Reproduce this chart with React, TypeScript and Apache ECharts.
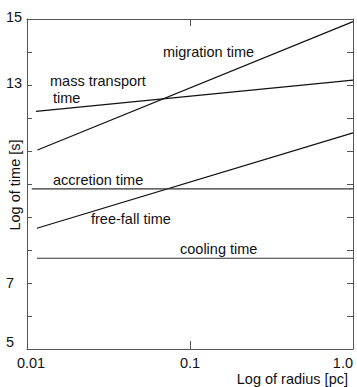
import React, { useEffect, useRef } from "react";
import * as echarts from "echarts";

const radiusStart = [0.0116, 0.01135, 0.0115, 0.0107, 0.0115];
const radiusEnd = [1.0, 1.0, 1.0, 1.0, 1.0];
const seriesNames = ["migration time", "mass transport time", "free-fall time", "accretion time", "cooling time"];
const startValues = [11.03, 12.2, 8.66, 9.85, 7.75];
const endValues = [14.92, 13.15, 11.55, 9.85, 7.75];
const yTickLabels = [15, 13, 7, 5];

const FONT = "'Liberation Sans', Arial, Helvetica, sans-serif";
const FS = 14.5;

export default function App() {
  const ref = useRef<HTMLDivElement>(null);
  useEffect(() => {
    if (!ref.current) return;
    const chart = echarts.init(ref.current, null, { renderer: "svg" });
    const xFmt = (v: number) => {
      const e = Math.round(Math.log10(v));
      if (e >= 0) return "1.0";
      if (e === -1) return "0.1";
      return "{first|0.01}";
    };
    const yFmt = (v: number) => {
      if (!yTickLabels.includes(v)) return "";
      if (v === 5) return "{low|5}";
      if (v >= 13) return "{up|" + v + "}";
      return String(v);
    };
    const txt = { color: "#111", fontSize: FS, fontFamily: FONT };
    const axisLine = { show: true, lineStyle: { color: "#555", width: 1 } };
    const series = seriesNames.map((name, i) => ({
      name,
      type: "line",
      data: [
        [radiusStart[i], startValues[i]],
        [radiusEnd[i], endValues[i]],
      ],
      showSymbol: false,
      symbol: "none",
      lineStyle: { color: i >= 3 ? "#333" : "#111", width: 1.2 },
      silent: true,
    }));
    const label = (text: string, x: number, y: number) => ({
      type: "text",
      x,
      y,
      style: { text, fill: "#111", font: `${FS}px ${FONT}`, textAlign: "left", textVerticalAlign: "middle" },
    });
    chart.setOption({
      animation: false,
      backgroundColor: "#fff",
      grid: { left: 27, top: 19, right: 4, bottom: 38 },
      xAxis: [
        {
          type: "log",
          logBase: 10,
          min: 0.01,
          max: 1,
          position: "bottom",
          axisLine,
          axisTick: { show: true, inside: true, length: 8, lineStyle: { color: "#555" } },
          minorTick: { show: false },
          splitLine: { show: false },
          axisLabel: {
            show: true,
            formatter: xFmt,
            ...txt,
            margin: 6,
            alignMaxLabel: "right",
            rich: { first: { ...txt, padding: [0, 0, 0, 8] } },
          },
        },
        {
          type: "log",
          logBase: 10,
          min: 0.01,
          max: 1,
          position: "top",
          axisLine,
          axisTick: { show: true, inside: true, length: 7, lineStyle: { color: "#555" } },
          splitLine: { show: false },
          axisLabel: { show: false },
        },
      ],
      yAxis: [
        {
          type: "value",
          min: 5,
          max: 15,
          interval: 1,
          position: "left",
          axisLine,
          axisTick: { show: true, inside: true, length: 5, lineStyle: { color: "#555" } },
          splitLine: { show: false },
          axisLabel: {
            show: true,
            align: "left",
            margin: 21,
            ...txt,
            formatter: yFmt,
            rich: {
              low: { ...txt, padding: [0, 0, 14, 0] },
              up: { ...txt, padding: [0, 0, 4, 0] },
            },
          },
        },
        {
          type: "value",
          min: 5,
          max: 15,
          interval: 1,
          position: "right",
          axisLine,
          axisTick: { show: true, inside: true, length: 6, lineStyle: { color: "#555" } },
          splitLine: { show: false },
          axisLabel: { show: false },
        },
      ],
      series,
      graphic: [
        label("migration time", 163, 52),
        label("mass transport", 50, 81),
        label("time", 53, 97.5),
        label("accretion time", 53, 179.5),
        label("free-fall time", 91, 218.5),
        label("cooling time", 180, 248.5),
        {
          type: "text",
          x: 348,
          y: 379,
          style: { text: "Log of radius [pc]", fill: "#111", font: `${FS}px ${FONT}`, textAlign: "right", textVerticalAlign: "middle" },
        },
        {
          type: "text",
          x: 15,
          y: 185,
          rotation: Math.PI / 2,
          style: { text: "Log of time [s]", fill: "#111", font: `${FS}px ${FONT}`, textAlign: "center", textVerticalAlign: "middle" },
        },
      ],
    });
    return () => chart.dispose();
  }, []);
  return <div ref={ref} style={{ width: 357, height: 387, position: "absolute", left: 0, top: 0 }} />;
}
